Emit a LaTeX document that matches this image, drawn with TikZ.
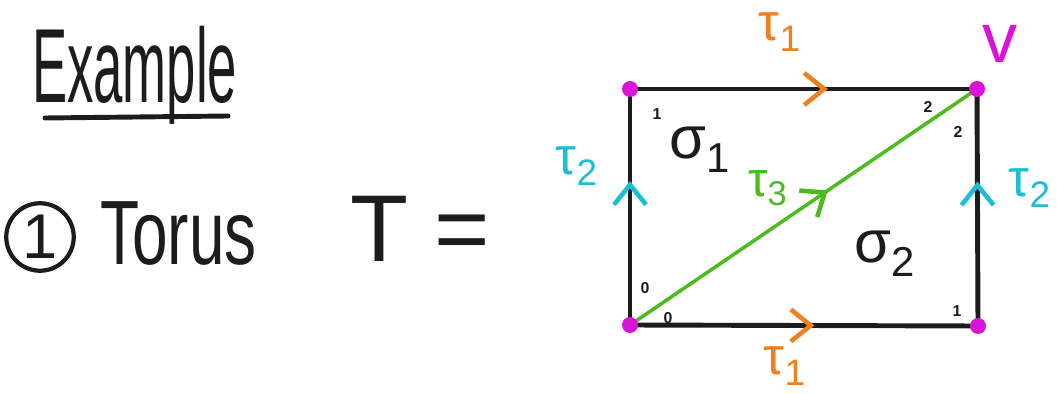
\documentclass[tikz,border=0pt]{standalone}
\usepackage{fontspec}
\setmainfont{Liberation Sans}
\usetikzlibrary{arrows.meta,decorations.markings}
\definecolor{inkblack}{HTML}{1C1C1C}
\definecolor{vtxmagenta}{HTML}{DA14D6}
\definecolor{edgeorange}{HTML}{EE8020}
\definecolor{edgecyan}{HTML}{1BBFD4}
\definecolor{edgegreen}{HTML}{4DBA1E}

\begin{document}
\begin{tikzpicture}[
  x=0.02cm, y=-0.02cm,
  every node/.style={inner sep=0pt, text=inkblack},
  hand/.style={font=\fontsize{#1}{#1}\selectfont},
  inkline/.style={draw=inkblack, line width=2.8pt, line cap=round},
  diagline/.style={draw=edgegreen, line width=2pt, line cap=round},
  vtxdot/.style={circle, fill=vtxmagenta, minimum size=0.32cm},
  cornerlab/.style={font=\bfseries\fontsize{9}{9}\selectfont},
  chevron/.style 2 args={postaction={decorate}, decoration={markings,
      mark=at position #1 with {\arrow[color=#2]{Straight Barb[length=0.4cm, width=0.64cm, line width=2.6pt]}}}}
]
\useasboundingbox (0,0) rectangle (1057,394);

% ---- Left side: heading and the torus ---------------------------------------
\node[hand=60pt, xscale=0.5, anchor=base west] (example) at (32,103) {Example};
\draw[inkline] (45,118) -- (228,116);

\node[hand=36pt, circle, draw=inkblack, line width=2.4pt, minimum size=1.35cm]
  (item) at (40,237) {1};
\node[hand=52pt, xscale=0.7, anchor=base west] (torus) at (100,265) {Torus};
\node[hand=54pt, anchor=base west] (teq) at (350,262) {T =};

% ---- The square with its identified sides ----------------------------------
\coordinate (bl) at (630,325);
\coordinate (tl) at (630,89);
\coordinate (tr) at (977,89);
\coordinate (br) at (978,326);

\draw[inkline, chevron={0.57}{edgeorange}] (tl) -- (tr);
\draw[inkline, chevron={0.53}{edgeorange}] (bl) -- (br);
\draw[inkline, chevron={0.61}{edgecyan}] (bl) -- (tl);
\draw[inkline, chevron={0.61}{edgecyan}] (br) -- (tr);
\draw[diagline, chevron={0.57}{edgegreen}] (bl) -- (tr);

\node[vtxdot] (dotbl) at (bl) {};
\node[vtxdot] (dottl) at (tl) {};
\node[vtxdot] (dottr) at (tr) {};
\node[vtxdot] (dotbr) at (br) {};

% edge and face labels
\node[hand=30pt, text=edgeorange] (tauone) at (780,32) {τ\textsubscript{1}};
\node[hand=30pt, text=edgeorange] (tauonebot) at (785,366) {τ\textsubscript{1}};
\node[hand=30pt, text=edgecyan] (tautwo) at (577,166) {τ\textsubscript{2}};
\node[hand=30pt, text=edgecyan] (tautworight) at (1030,188) {τ\textsubscript{2}};
\node[hand=28pt, text=edgegreen] (tauthree) at (768,188) {τ\textsubscript{3}};
\node[hand=34pt] (sigone) at (700,150) {σ\textsubscript{1}};
\node[hand=34pt] (sigtwo) at (885,254) {σ\textsubscript{2}};
\node[hand=40pt, text=vtxmagenta] (vname) at (1000,44) {v};

% vertex order in each triangle
\node[cornerlab] (ordtl) at (657,114) {1};
\node[cornerlab] (ordtra) at (928,107) {2};
\node[cornerlab] (ordtrb) at (958,132) {2};
\node[cornerlab] (ordbla) at (645,288) {0};
\node[cornerlab] (ordblb) at (668,318) {0};
\node[cornerlab] (ordbr) at (957,311) {1};

\end{tikzpicture}
\end{document}
